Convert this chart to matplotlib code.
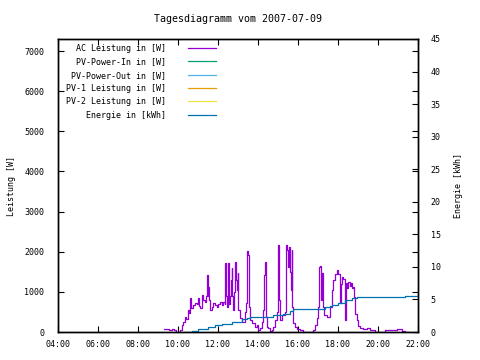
import matplotlib
matplotlib.use('Agg')
import matplotlib.pyplot as plt

plt.rcParams['font.family'] = 'DejaVu Sans Mono'
plt.rcParams['font.size'] = 6

# AC Leistung in [W] - (hour of day, watts)
ac_time = [9.3, 9.45, 9.55, 9.7, 9.8, 9.88, 10.0, 10.1, 10.18, 10.27, 10.35, 10.42, 10.5, 10.55,
           10.6, 10.65, 10.75, 10.85, 10.95, 11.0, 11.05, 11.1, 11.18, 11.25, 11.35, 11.4, 11.43,
           11.48, 11.52, 11.56, 11.6, 11.68, 11.77, 11.85, 11.93, 12.02, 12.1, 12.18, 12.27, 12.33,
           12.35, 12.39, 12.43, 12.48, 12.52, 12.55, 12.6, 12.65, 12.68, 12.72, 12.77, 12.82, 12.85,
           12.89, 12.93, 12.98, 13.02, 13.1, 13.2, 13.27, 13.35, 13.4, 13.44, 13.47, 13.52, 13.57,
           13.6, 13.68, 13.77, 13.85, 13.93, 14.02, 14.1, 14.18, 14.27, 14.32, 14.37, 14.4, 14.45,
           14.52, 14.6, 14.68, 14.77, 14.85, 14.93, 14.98, 15.02, 15.05, 15.1, 15.18, 15.27, 15.35,
           15.4, 15.45, 15.48, 15.52, 15.57, 15.6, 15.63, 15.68, 15.72, 15.77, 15.85, 15.93, 16.1,
           16.27, 16.43, 16.6, 16.77, 16.85, 16.93, 17.02, 17.07, 17.1, 17.13, 17.18, 17.23, 17.3,
           17.43, 17.52, 17.6, 17.68, 17.77, 17.85, 17.93, 18.02, 18.08, 18.1, 18.13, 18.18, 18.27,
           18.33, 18.35, 18.38, 18.45, 18.52, 18.6, 18.65, 18.72, 18.77, 18.82, 18.85, 18.93, 19.02,
           19.1, 19.27, 19.43, 19.6, 19.85, 20.1, 20.35, 20.68, 20.93, 21.18, 21.35, 21.6]
ac_watt = [65, 70, 55, 70, 40, 0, 0, 60, 170, 250, 380, 330, 545, 480,
           840, 600, 680, 720, 700, 840, 650, 600, 920, 800, 750, 900, 1410,
           900, 1120, 800, 545, 620, 720, 680, 630, 700, 750, 670, 750, 700,
           1720, 900, 630, 800, 1710, 700, 900, 1300, 1590, 900, 545, 1000, 1745,
           1300, 1040, 1460, 545, 350, 255, 255, 500, 720, 1800, 2030, 1910, 630,
           300, 220, 220, 130, 170, 50, 100, 255, 545, 1410, 1745, 380, 130,
           100, 30, 50, 130, 300, 500, 960, 2160, 790, 300, 420, 420, 500,
           2160, 2040, 1700, 1620, 2110, 1500, 1040, 2050, 630, 220, 120, 70, 50,
           10, 0, 0, 50, 170, 350, 630, 1620, 1650, 790, 1460, 630, 420,
           380, 380, 630, 1040, 1290, 1455, 1540, 1455, 1300, 720, 1200, 1370, 1330,
           1250, 300, 1210, 1100, 1250, 1150, 1210, 1100, 1120, 875, 460, 300, 150,
           90, 70, 90, 50, 10, 0, 50, 50, 70, 30, 0, 0]

# Energie in [kWh]
en_time = [10.25, 10.68, 11.0, 11.52, 11.85, 12.18, 12.68, 13.18, 13.43, 13.6, 14.27, 14.77,
           15.27, 15.6, 15.73, 17.02, 17.35, 17.6, 17.68, 18.02, 18.35, 18.68, 18.93, 21.35, 22.0]
en_kwh = [0, 0.2, 0.4, 0.8, 1.0, 1.2, 1.6, 1.95, 2.1, 2.25, 2.35, 2.6,
          2.75, 3.2, 3.5, 3.5, 3.85, 3.95, 4.15, 4.5, 4.9, 5.15, 5.4, 5.5, 5.8]

series_labels = ['AC Leistung in [W]', 'PV-Power-In in [W]', 'PV-Power-Out in [W]',
                 'PV-1 Leistung in [W]', 'PV-2 Leistung in [W]', 'Energie in [kWh]']
series_colors = ['#9400d3', '#009e73', '#56b4e9', '#e69f00', '#f0e442', '#0072b2']

x_ticks = [4, 6, 8, 10, 12, 14, 16, 18, 20, 22]
x_ticklabels = ['04:00', '06:00', '08:00', '10:00', '12:00', '14:00', '16:00', '18:00',
                '20:00', '22:00']
y1_ticks = [0, 1000, 2000, 3000, 4000, 5000, 6000, 7000]
y2_ticks = [0, 5, 10, 15, 20, 25, 30, 35, 40, 45]

fig = plt.figure(figsize=(4.8, 3.6), dpi=100)
ax = fig.add_axes([58 / 480, 28 / 360, 360 / 480, 293 / 360])
ax2 = ax.twinx()

lines = []
l, = ax.plot(ac_time, ac_watt, color=series_colors[0], lw=0.9, drawstyle='steps-post')
lines.append(l)
for c in series_colors[1:5]:
    l, = ax.plot([], [], color=c, lw=0.9)
    lines.append(l)
l, = ax2.plot(en_time, en_kwh, color=series_colors[5], lw=0.9, drawstyle='steps-post')
lines.append(l)

ax.set_xlim(4, 22)
ax.set_ylim(0, 7300)
ax2.set_ylim(0, 45)
ax.set_xticks(x_ticks)
ax.set_xticklabels(x_ticklabels)
ax.set_yticks(y1_ticks)
ax2.set_yticks(y2_ticks)

ax.tick_params(direction='in', length=4, width=0.8, top=True, right=True, pad=6)
ax2.tick_params(direction='in', length=4, width=0.8, pad=9)
ax.tick_params(axis='y', pad=10)

ax.set_ylabel('Leistung [W]', labelpad=6)
ax2.set_ylabel('Energie [kWh]', labelpad=10)
ax.set_title('Tagesdiagramm vom 2007-07-09', pad=12.5)

for a in (ax, ax2):
    for s in a.spines.values():
        s.set_linewidth(1)

leg = ax.legend(lines, series_labels, loc='upper right', bbox_to_anchor=(0.453, 1.0),
                frameon=False, markerfirst=False, handlelength=3.4, handletextpad=2.6,
                labelspacing=0.52, borderaxespad=0.2, fontsize=6)

fig.savefig('out.png', dpi=100)
